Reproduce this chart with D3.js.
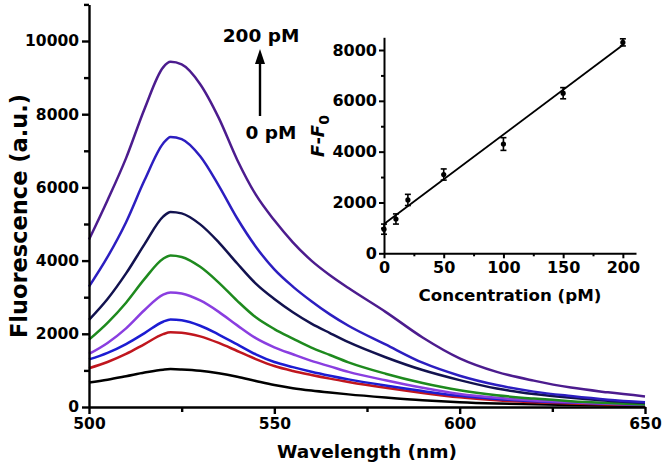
<!DOCTYPE html>
<html><head><meta charset="utf-8">
<script src="https://cdn.jsdelivr.net/npm/d3@7"></script>
<style>
html,body{margin:0;padding:0;background:#fff;}
svg text{font-family:"DejaVu Sans",sans-serif;font-weight:bold;fill:#000;}
</style></head>
<body>
<svg id="chart" width="663" height="469"></svg>
<script>
// ---------- data ----------
const wavelengths = [500,505,510,515,520,522,525,530,535,540,545,550,555,560,565,570,580,590,600,610,620,630,640,650];
const seriesNames = ["blank","0 pM","10 pM","20 pM","50 pM","100 pM","150 pM","200 pM"];
const seriesColors = ["#000000","#c0161e","#1c1cd2","#8a3ee0","#1e8a1e","#12124f","#2c1ec0","#4c1c8e"];
const sBlank = [670,745,840,940,1020,1035,1025,990,920,825,710,600,515,450,395,345,260,185,130,95,72,52,40,30];
const s0   = [1060,1230,1450,1720,1990,2040,2030,1930,1750,1530,1310,1120,985,875,775,685,525,385,265,185,132,95,70,50];
const s10  = [1300,1480,1720,2020,2330,2390,2370,2220,1980,1710,1440,1230,1090,965,855,755,585,435,305,220,160,120,90,60];
const s20  = [1450,1750,2150,2650,3070,3130,3100,2910,2600,2230,1880,1630,1440,1260,1110,960,730,525,355,250,180,130,90,60];
const s50  = [1840,2300,2850,3500,4050,4140,4100,3830,3400,2900,2450,2130,1870,1620,1420,1220,910,655,455,320,230,160,110,70];
const s100 = [2380,2950,3650,4450,5200,5330,5290,4990,4500,3920,3370,2950,2590,2280,2020,1770,1360,1010,735,505,355,250,170,110];
const s150 = [3290,4100,5050,6200,7200,7380,7320,6850,6050,5150,4380,3760,3290,2890,2530,2220,1710,1210,855,600,420,300,200,130];
const s200 = [4575,5650,6800,8150,9280,9430,9360,8820,7900,6750,5800,5100,4500,4000,3600,3250,2600,1900,1330,960,720,530,400,290];
const allSeries = [sBlank,s0,s10,s20,s50,s100,s150,s200];

const mainXTicks = [500,550,600,650];
const mainXMinor = [525,575,625];
const mainYTicks = [0,2000,4000,6000,8000,10000];
const mainYMinor = [1000,3000,5000,7000,9000,11000];

const insetConc = [0,10,20,50,100,150,200];
const insetVal  = [950,1350,2100,3100,4300,6300,8300];
const insetErr  = [200,200,220,220,250,220,140];
const fitX = [0,200];
const fitY = [1150,8200];
const insetXTicks = [0,50,100,150,200];
const insetXMinor = [25,75,125,175];
const insetYTicks = [0,2000,4000,6000,8000];
const insetYMinor = [1000,3000,5000,7000];

// ---------- main chart ----------
const svg = d3.select("#chart");
const x = d3.scaleLinear().domain([500,650]).range([89,645]);
const y = d3.scaleLinear().domain([0,11000]).range([407,4.4]);

const line = d3.line().x((d,i)=>x(wavelengths[i])).y(d=>y(d)).curve(d3.curveMonotoneX);
svg.append("g").selectAll("path").data(allSeries).join("path")
  .attr("d", d=>line(d)).attr("fill","none")
  .attr("stroke",(d,i)=>seriesColors[i]).attr("stroke-width",2.5).attr("stroke-linejoin","round");

function styleAxis(g, w){
  g.selectAll(".domain").attr("stroke","#000").attr("stroke-width",w);
  g.selectAll(".tick line").attr("stroke","#000").attr("stroke-width",w);
}
// x axis
const gx = svg.append("g").attr("transform","translate(0,407)")
  .call(d3.axisBottom(x).tickValues(mainXTicks).tickSize(7).tickPadding(4).tickSizeOuter(0).tickFormat(d3.format("d")));
gx.selectAll("text").attr("font-size",15.5).attr("font-family","DejaVu Sans").attr("font-weight","bold");
styleAxis(gx,2.4);
svg.append("g").attr("transform","translate(0,407)")
  .call(d3.axisBottom(x).tickValues(mainXMinor).tickSize(5).tickFormat("")).call(g=>{g.select(".domain").remove();styleAxis(g,2.4);});
// y axis
const gy = svg.append("g").attr("transform","translate(89,0)")
  .call(d3.axisLeft(y).tickValues(mainYTicks).tickSize(7).tickPadding(3).tickSizeOuter(0).tickFormat(d3.format("d")));
gy.selectAll("text").attr("font-size",15.5).attr("font-family","DejaVu Sans").attr("font-weight","bold");
styleAxis(gy,2.4);
svg.append("g").attr("transform","translate(89,0)")
  .call(d3.axisLeft(y).tickValues(mainYMinor).tickSize(5).tickFormat("")).call(g=>{g.select(".domain").remove();styleAxis(g,2.4);});

svg.append("text").attr("x",367).attr("y",458).attr("text-anchor","middle").attr("font-size",18.5).text("Wavelength (nm)");
svg.append("text").attr("transform","translate(27,216) rotate(-90)").attr("text-anchor","middle").attr("font-size",22.5).text("Fluorescence (a.u.)");

// arrow annotation
svg.append("line").attr("x1",260).attr("x2",260).attr("y1",116).attr("y2",60).attr("stroke","#000").attr("stroke-width",2.4);
svg.append("path").attr("d","M260,49 L255,64 L265,64 Z").attr("fill","#000");
svg.append("text").attr("x",261).attr("y",41.5).attr("text-anchor","middle").attr("font-size",18.5).text("200 pM");
svg.append("text").attr("x",271).attr("y",138.5).attr("text-anchor","middle").attr("font-size",18.5).text("0 pM");

// ---------- inset ----------
const ix = d3.scaleLinear().domain([0,211]).range([384,636]);
const iy = d3.scaleLinear().domain([0,8500]).range([253.3,37.3]);
const ins = svg.append("g");
ins.append("line").attr("x1",ix(fitX[0])).attr("y1",iy(fitY[0])).attr("x2",ix(fitX[1])).attr("y2",iy(fitY[1]))
  .attr("stroke","#000").attr("stroke-width",1.8);
const pts = ins.append("g").selectAll("g").data(insetConc).join("g");
pts.append("line").attr("x1",(d)=>ix(d)).attr("x2",d=>ix(d))
  .attr("y1",(d,i)=>iy(insetVal[i]-insetErr[i])).attr("y2",(d,i)=>iy(insetVal[i]+insetErr[i])).attr("stroke","#000").attr("stroke-width",1.6);
pts.append("line").attr("x1",d=>ix(d)-3).attr("x2",d=>ix(d)+3)
  .attr("y1",(d,i)=>iy(insetVal[i]+insetErr[i])).attr("y2",(d,i)=>iy(insetVal[i]+insetErr[i])).attr("stroke","#000").attr("stroke-width",1.6);
pts.append("line").attr("x1",d=>ix(d)-3).attr("x2",d=>ix(d)+3)
  .attr("y1",(d,i)=>iy(insetVal[i]-insetErr[i])).attr("y2",(d,i)=>iy(insetVal[i]-insetErr[i])).attr("stroke","#000").attr("stroke-width",1.6);
pts.append("circle").attr("cx",d=>ix(d)).attr("cy",(d,i)=>iy(insetVal[i])).attr("r",2.6).attr("fill","#000");

const igx = ins.append("g").attr("transform","translate(0,253.3)")
  .call(d3.axisBottom(ix).tickValues(insetXTicks).tickSize(5).tickPadding(3).tickSizeOuter(0));
igx.selectAll("text").attr("font-size",16).attr("font-family","DejaVu Sans").attr("font-weight","bold");
styleAxis(igx,2);
ins.append("g").attr("transform","translate(0,253.3)")
  .call(d3.axisBottom(ix).tickValues(insetXMinor).tickSize(3).tickFormat("")).call(g=>{g.select(".domain").remove();styleAxis(g,2);});
const igy = ins.append("g").attr("transform","translate(384,0)")
  .call(d3.axisLeft(iy).tickValues(insetYTicks).tickSize(5).tickPadding(2).tickSizeOuter(0).tickFormat(d3.format("d")));
igy.selectAll("text").attr("font-size",16).attr("font-family","DejaVu Sans").attr("font-weight","bold");
styleAxis(igy,2);
ins.append("g").attr("transform","translate(384,0)")
  .call(d3.axisLeft(iy).tickValues(insetYMinor).tickSize(3).tickFormat("")).call(g=>{g.select(".domain").remove();styleAxis(g,2);});

ins.append("text").attr("x",510).attr("y",301).attr("text-anchor","middle").attr("font-size",16.7).text("Concentration (pM)");
const yl = ins.append("text").attr("transform","translate(324,136) rotate(-90)").attr("text-anchor","middle").attr("font-size",18);
yl.append("tspan").attr("font-style","italic").text("F");
yl.append("tspan").text("-");
yl.append("tspan").attr("font-style","italic").text("F");
yl.append("tspan").attr("dy",5).attr("font-size",14).text("0");
</script>
</body></html>
